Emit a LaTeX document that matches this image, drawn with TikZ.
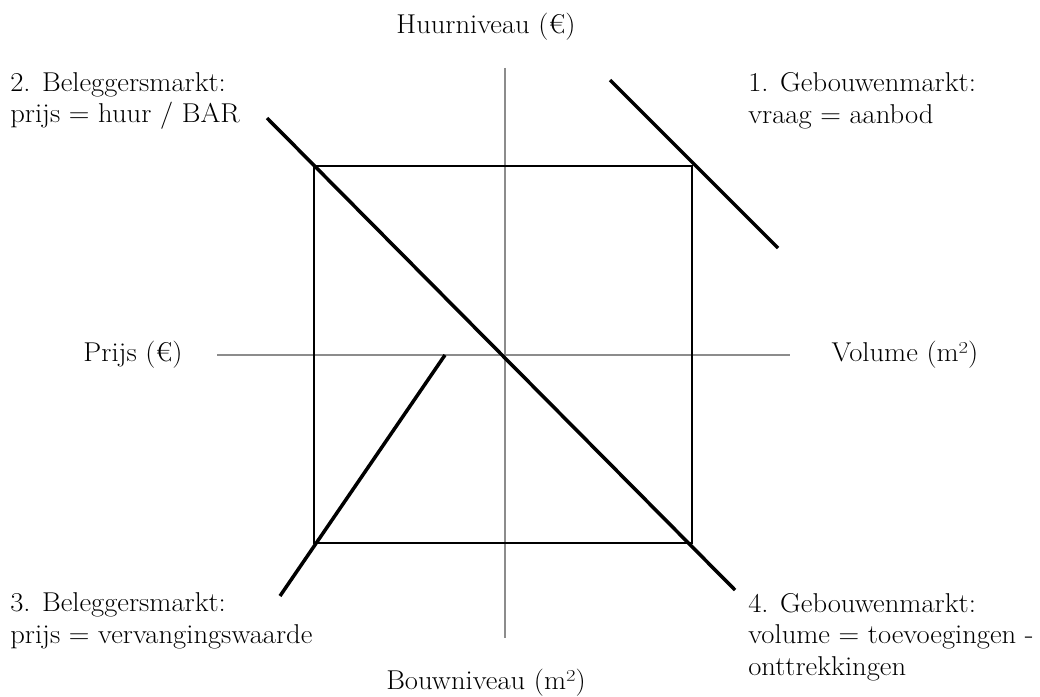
\documentclass[tikz,border=0pt]{standalone}
\usepackage{fontspec}
\setmainfont{Latin Modern Roman}[FakeStretch=1.05]
\usepackage{tikz}
\usetikzlibrary{positioning}

\begin{document}
\begin{tikzpicture}[
    x=0.02cm, y=-0.02cm,
    axis/.style={draw=black!45, line width=0.9pt},
    frame/.style={draw, line width=1pt},
    curve/.style={draw, line width=2pt},
    lbl/.style={font=\fontsize{15.5}{18}\selectfont, align=left, inner sep=0pt}
]
\useasboundingbox (0,0) rectangle (1040,696);

% axes
\coordinate (top) at (505,68);
\coordinate (bottom) at (505,638);
\coordinate (left) at (217,355);
\coordinate (right) at (790,355);
\draw[axis] (top) -- (bottom);
\draw[axis] (left) -- (right);

% square
\coordinate (nw) at (314,166);
\coordinate (se) at (692,543);
\draw[frame] (nw) rectangle (se);

% market lines
\coordinate (d1) at (267,118);
\coordinate (d2) at (735,590);
\coordinate (g1) at (610,80);
\coordinate (g2) at (778,248);
\coordinate (b1) at (445,355);
\coordinate (b2) at (280,596);
\draw[curve] (d1) -- (d2);
\draw[curve] (g1) -- (g2);
\draw[curve] (b1) -- (b2);

% labels
\node[lbl] (huur) at (486,27) {Huurniveau (€)};
\node[lbl] (bouw) at (486,683) {Bouwniveau (m²)};
\node[lbl] (prijs) at (133,355) {Prijs (€)};
\node[lbl] (vol) at (905,355) {Volume (m²)};
\node[lbl, anchor=west] (q2) at (10,101) {2. Beleggersmarkt:\\prijs = huur / BAR};
\node[lbl, anchor=west] (q1) at (748,101) {1. Gebouwenmarkt:\\vraag = aanbod};
\node[lbl, anchor=west] (q3) at (10,621) {3. Beleggersmarkt:\\prijs = vervangingswaarde};
\node[lbl, anchor=west] (q4) at (748,637) {4. Gebouwenmarkt:\\volume = toevoegingen -\\onttrekkingen};
\end{tikzpicture}
\end{document}
